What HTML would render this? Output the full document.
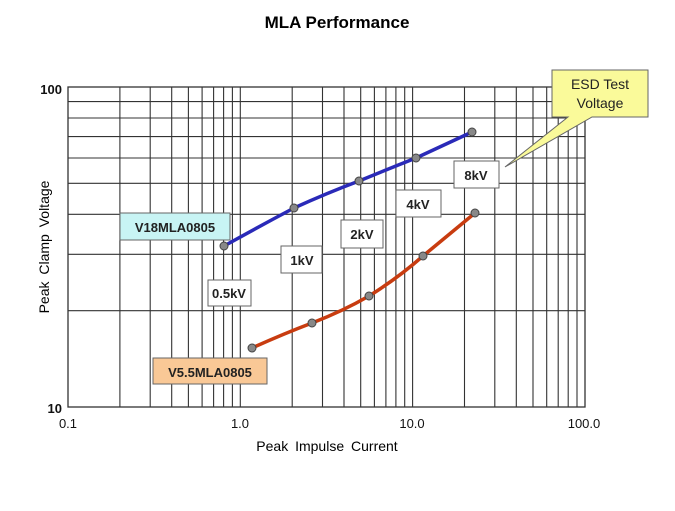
<!DOCTYPE html>
<html><head><style>
body{margin:0;background:#fff;}
svg text{font-family:"Liberation Sans",Arial,sans-serif;}
</style></head><body>
<svg width="675" height="506" viewBox="0 0 675 506" xmlns="http://www.w3.org/2000/svg">
<rect width="675" height="506" fill="#fff"/>
<text x="337" y="28" font-size="17" font-weight="bold" text-anchor="middle">MLA Performance</text>
<g stroke="#333" stroke-width="1.1">
<path d="M119.9,87V407M150.2,87V407M171.7,87V407M188.4,87V407M202.1,87V407M213.6,87V407M223.6,87V407M232.4,87V407M240.3,87V407
M292.2,87V407M322.5,87V407M344,87V407M360.7,87V407M374.4,87V407M385.9,87V407M395.9,87V407M404.7,87V407M412.6,87V407
M464.5,87V407M494.8,87V407M516.3,87V407M533,87V407M546.7,87V407M558.2,87V407M568.2,87V407M577,87V407
M68,310.7H585M68,254.3H585M68,214.3H585M68,183.3H585M68,158H585M68,136.6H585M68,118H585M68,101.6H585" fill="none"/>
</g>
<rect x="68" y="87" width="517" height="320" fill="none" stroke="#333" stroke-width="1.3"/>
<g font-size="13" font-weight="bold" fill="#111">
<text x="62" y="94" text-anchor="end">100</text>
<text x="62" y="413" text-anchor="end">10</text>
</g>
<g font-size="13" text-anchor="middle" fill="#111">
<text x="68" y="428">0.1</text>
<text x="240" y="428">1.0</text>
<text x="412" y="428">10.0</text>
<text x="584" y="428">100.0</text>
</g>
<text x="327" y="451" font-size="14" text-anchor="middle" word-spacing="3">Peak Impulse Current</text>
<text transform="translate(49,247) rotate(-90)" font-size="14" text-anchor="middle" word-spacing="3">Peak Clamp Voltage</text>
<path d="M224,246 Q260,226 294,208 Q327,193 359,181 Q388,169 416,158 L472,132" fill="none" stroke="#2a2ab8" stroke-width="3.5"/>
<path d="M252,348 Q283,334 312,323 Q343,311 369,296 Q398,278 423,256 L475,213" fill="none" stroke="#c83c10" stroke-width="3.5"/>
<g fill="#888" stroke="#444" stroke-width="1">
<circle cx="224" cy="246" r="4"/><circle cx="294" cy="208" r="4"/><circle cx="359" cy="181" r="4"/><circle cx="416" cy="158" r="4"/><circle cx="472" cy="132" r="4"/>
<circle cx="252" cy="348" r="4"/><circle cx="312" cy="323" r="4"/><circle cx="369" cy="296" r="4"/><circle cx="423" cy="256" r="4"/><circle cx="475" cy="213" r="4"/>
</g>
<g stroke="#666" stroke-width="1" font-size="13" font-weight="bold" text-anchor="middle">
<rect x="120" y="213" width="110" height="27" fill="#c8f4f4"/>
<text x="175" y="232" stroke="none" fill="#222">V18MLA0805</text>
<rect x="153" y="358" width="114" height="26" fill="#f9c896"/>
<text x="210" y="377" stroke="none" fill="#222">V5.5MLA0805</text>
<rect x="208" y="280" width="43" height="26" fill="#fff"/><text x="229" y="298" stroke="none" fill="#222">0.5kV</text>
<rect x="281" y="246" width="41" height="27" fill="#fff"/><text x="302" y="265" stroke="none" fill="#222">1kV</text>
<rect x="341" y="220" width="42" height="28" fill="#fff"/><text x="362" y="239" stroke="none" fill="#222">2kV</text>
<rect x="396" y="190" width="45" height="27" fill="#fff"/><text x="418" y="209" stroke="none" fill="#222">4kV</text>
<rect x="454" y="161" width="45" height="27" fill="#fff"/><text x="476" y="180" stroke="none" fill="#222">8kV</text>
<path d="M552,70 H648 V117 H592 L505,167 L568,117 H552 Z" fill="#fafa9a"/>
<text x="600" y="89" stroke="none" fill="#222" font-weight="normal" font-size="14">ESD Test</text>
<text x="600" y="108" stroke="none" fill="#222" font-weight="normal" font-size="14">Voltage</text>
</g>
</svg>
</body></html>
